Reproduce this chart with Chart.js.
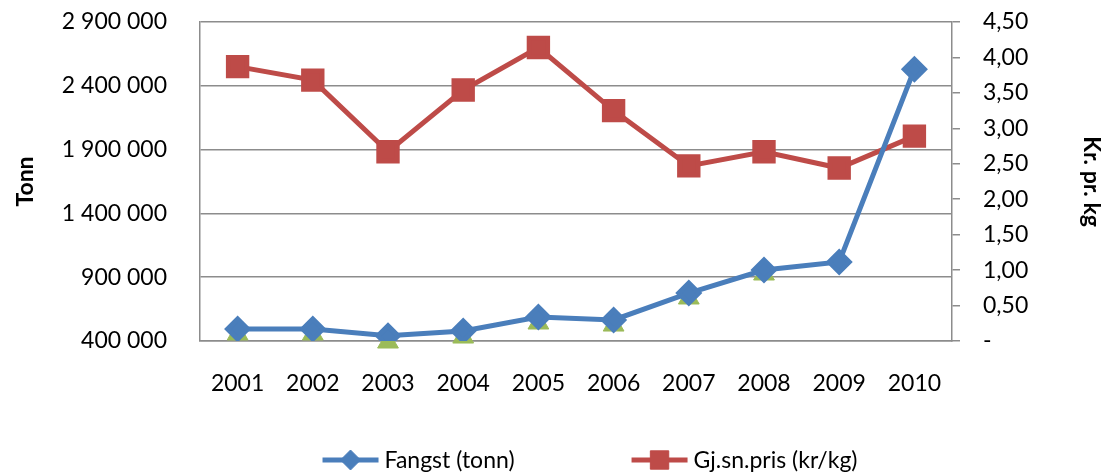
<!DOCTYPE html>
<html>
<head>
<meta charset="utf-8">
<script src="https://cdn.jsdelivr.net/npm/chart.js@4.4.1/dist/chart.umd.min.js"></script>
<style>
  html, body { margin: 0; padding: 0; background: #fff; }
  #wrap { width: 1105px; height: 474px; position: relative; }
</style>
</head>
<body>
<div id="wrap"><canvas id="myChart"></canvas></div>
<script>
// data
let years = ['2001', '2002', '2003', '2004', '2005', '2006', '2007', '2008', '2009', '2010'];
let fangst = [494000, 494000, 441000, 478000, 588000, 565000, 776000, 956000, 1019000, 2530000];
let pris = [3.87, 3.68, 2.67, 3.54, 4.14, 3.25, 2.47, 2.67, 2.44, 2.89];
// green triangles peeking out under the blue line (not in the legend)
let skjult = [455000, 455000, 392000, 431000, 541000, 525000, 737000, 925000, null, null];

let blue = '#4a7ebb';
let red = '#be4b48';
let green = '#9bbb59';
let gridCol = '#8c8c8c';
let fontFam = 'Lato, "Open Sans", sans-serif';

function spaceThousands(v) {
  return String(Math.round(v)).replace(/\B(?=(\d{3})+(?!\d))/g, ' ');
}

// legend drawn as line + marker, like the spreadsheet legend
const lineLegend = {
  id: 'lineLegend',
  afterDraw(chart) {
    let ctx = chart.ctx;
    let items = chart.data.datasets.filter(d => d.inLegend);
    ctx.save();
    ctx.font = '23px ' + fontFam;
    let symW = 56, symGap = 6, itemGap = 117;
    let total = 0;
    items.forEach((d, i) => {
      total += symW + symGap + ctx.measureText(d.label).width;
      if (i > 0) total += itemGap;
    });
    let x = 590 - total / 2;
    let y = 460;
    items.forEach(d => {
      ctx.strokeStyle = d.borderColor;
      ctx.lineWidth = 5;
      ctx.beginPath();
      ctx.moveTo(x, y);
      ctx.lineTo(x + symW, y);
      ctx.stroke();
      ctx.fillStyle = d.pointBackgroundColor;
      ctx.strokeStyle = d.pointBorderColor;
      ctx.lineWidth = 1;
      Chart.helpers.drawPoint(ctx, {
        pointStyle: d.pointStyle, radius: d.pointRadius, rotation: 0, borderWidth: 1
      }, x + symW / 2, y);
      ctx.fillStyle = '#000';
      ctx.textAlign = 'left';
      ctx.textBaseline = 'middle';
      ctx.fillText(d.label, x + symW + symGap, y + 1);
      x += symW + symGap + ctx.measureText(d.label).width + itemGap;
    });
    ctx.restore();
  }
};

// keep the plot area where the reference has it
function pinVertical(width) {
  return function(scale) {
    scale.width = width;
    scale.paddingTop = 0;
    scale.paddingBottom = 0;
  };
}

let ctx = document.getElementById('myChart');
let myChart = new Chart(ctx, {
  type: 'line',
  data: {
    labels: years,
    datasets: [
      {
        label: 'Fangst (tonn)',
        inLegend: true,
        data: fangst,
        yAxisID: 'y',
        borderColor: blue,
        backgroundColor: blue,
        borderWidth: 5,
        pointStyle: 'rectRot',
        pointRadius: 10,
        pointBackgroundColor: blue,
        pointBorderColor: blue,
        tension: 0
      },
      {
        label: 'Gj.sn.pris (kr/kg)',
        inLegend: true,
        data: pris,
        yAxisID: 'y1',
        borderColor: red,
        backgroundColor: red,
        borderWidth: 5,
        pointStyle: 'rect',
        pointRadius: 13,
        pointBackgroundColor: red,
        pointBorderColor: red,
        tension: 0
      },
      {
        label: 'skjult',
        inLegend: false,
        data: skjult,
        yAxisID: 'y',
        showLine: false,
        clip: false,
        pointStyle: 'triangle',
        pointRadius: 12,
        pointBackgroundColor: green,
        pointBorderColor: green,
        borderColor: green,
        backgroundColor: green
      }
    ]
  },
  options: {
    responsive: true,
    maintainAspectRatio: false,
    animation: false,
    layout: { padding: { top: 22, left: 0, right: 0, bottom: 0 } },
    plugins: {
      legend: { display: false },
      tooltip: { enabled: false }
    },
    scales: {
      x: {
        offset: true,
        grid: { display: false, drawTicks: false },
        border: { display: true, color: gridCol, width: 1.5 },
        ticks: { color: '#000', font: { family: fontFam, size: 23 }, padding: 29, maxRotation: 0 },
        afterFit(scale) { scale.height = 133; }
      },
      y: {
        position: 'left',
        min: 400000,
        max: 2900000,
        grid: { color: gridCol, lineWidth: 1.5, drawTicks: false },
        border: { display: true, color: gridCol, width: 1.5 },
        ticks: {
          stepSize: 500000,
          color: '#000',
          font: { family: fontFam, size: 23 },
          padding: 33,
          callback: v => spaceThousands(v)
        },
        title: {
          display: true,
          text: 'Tonn',
          color: '#000',
          font: { family: fontFam, size: 23, weight: 'bold' },
          padding: { top: 12, bottom: 0 }
        },
        afterFit: pinVertical(200)
      },
      y1: {
        position: 'right',
        min: 0,
        max: 4.5,
        grid: { drawOnChartArea: false, color: gridCol, lineWidth: 1.5, tickLength: 8 },
        border: { display: true, color: gridCol, width: 1.5 },
        ticks: {
          stepSize: 0.5,
          color: '#000',
          font: { family: fontFam, size: 23 },
          padding: 23,
          callback: v => v === 0 ? '-' : v.toFixed(2).replace('.', ',')
        },
        title: {
          display: true,
          text: 'Kr. pr. kg',
          color: '#000',
          font: { family: fontFam, size: 23, weight: 'bold' },
          padding: { top: 0, bottom: 0 }
        },
        afterFit: pinVertical(153)
      }
    }
  },
  plugins: [lineLegend]
});
</script>
</body>
</html>
